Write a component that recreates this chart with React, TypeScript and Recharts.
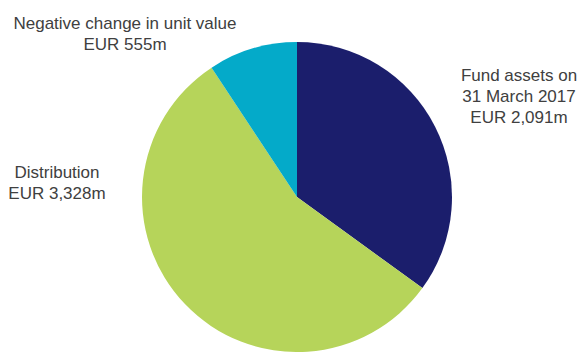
import { PieChart, Pie, Cell } from 'recharts';

const categories = ['Fund assets on 31 March 2017', 'Distribution', 'Negative change in unit value'];
const values = [2091, 3328, 555];
const labelLines = [
  ['Fund assets on', '31 March 2017', 'EUR 2,091m'],
  ['Distribution', 'EUR 3,328m'],
  ['Negative change in unit value', 'EUR 555m'],
];

const COLORS = ['#1B1E6C', '#B6D45A', '#04AAC9'];
// label block centre, relative to the pie centre
const LABEL_OFFSETS = [
  { dx: 222, dy: -101 },
  { dx: -240, dy: -15 },
  { dx: -172, dy: -164 },
];

const data = categories.map((name, i) => ({ name, value: values[i] }));

const LINE_H = 21;

function renderLabel(props: any) {
  const { cx, cy, index } = props;
  const lines = labelLines[index];
  const off = LABEL_OFFSETS[index];
  const x = cx + off.dx;
  const top = cy + off.dy - ((lines.length - 1) * LINE_H) / 2;
  return (
    <text
      key={`lbl-${index}`}
      x={x}
      y={top}
      textAnchor="middle"
      dominantBaseline="central"
      fill="#404040"
      fontSize={17}
      fontFamily="'Liberation Sans', Arial, sans-serif"
    >
      {lines.map((l, j) => (
        <tspan key={j} x={x} y={top + j * LINE_H}>
          {l}
        </tspan>
      ))}
    </text>
  );
}

export default function App() {
  return (
    <div style={{ position: 'fixed', left: 0, top: 0, width: 579, height: 352, background: '#fff' }}>
      <PieChart width={579} height={352}>
        <Pie
          data={data}
          dataKey="value"
          nameKey="name"
          cx={292}
          cy={192}
          outerRadius={155}
          startAngle={90}
          endAngle={-270}
          stroke="none"
          label={renderLabel}
          labelLine={false}
          isAnimationActive={false}
        >
          {data.map((d, i) => (
            <Cell key={d.name} fill={COLORS[i]} />
          ))}
        </Pie>
      </PieChart>
    </div>
  );
}
